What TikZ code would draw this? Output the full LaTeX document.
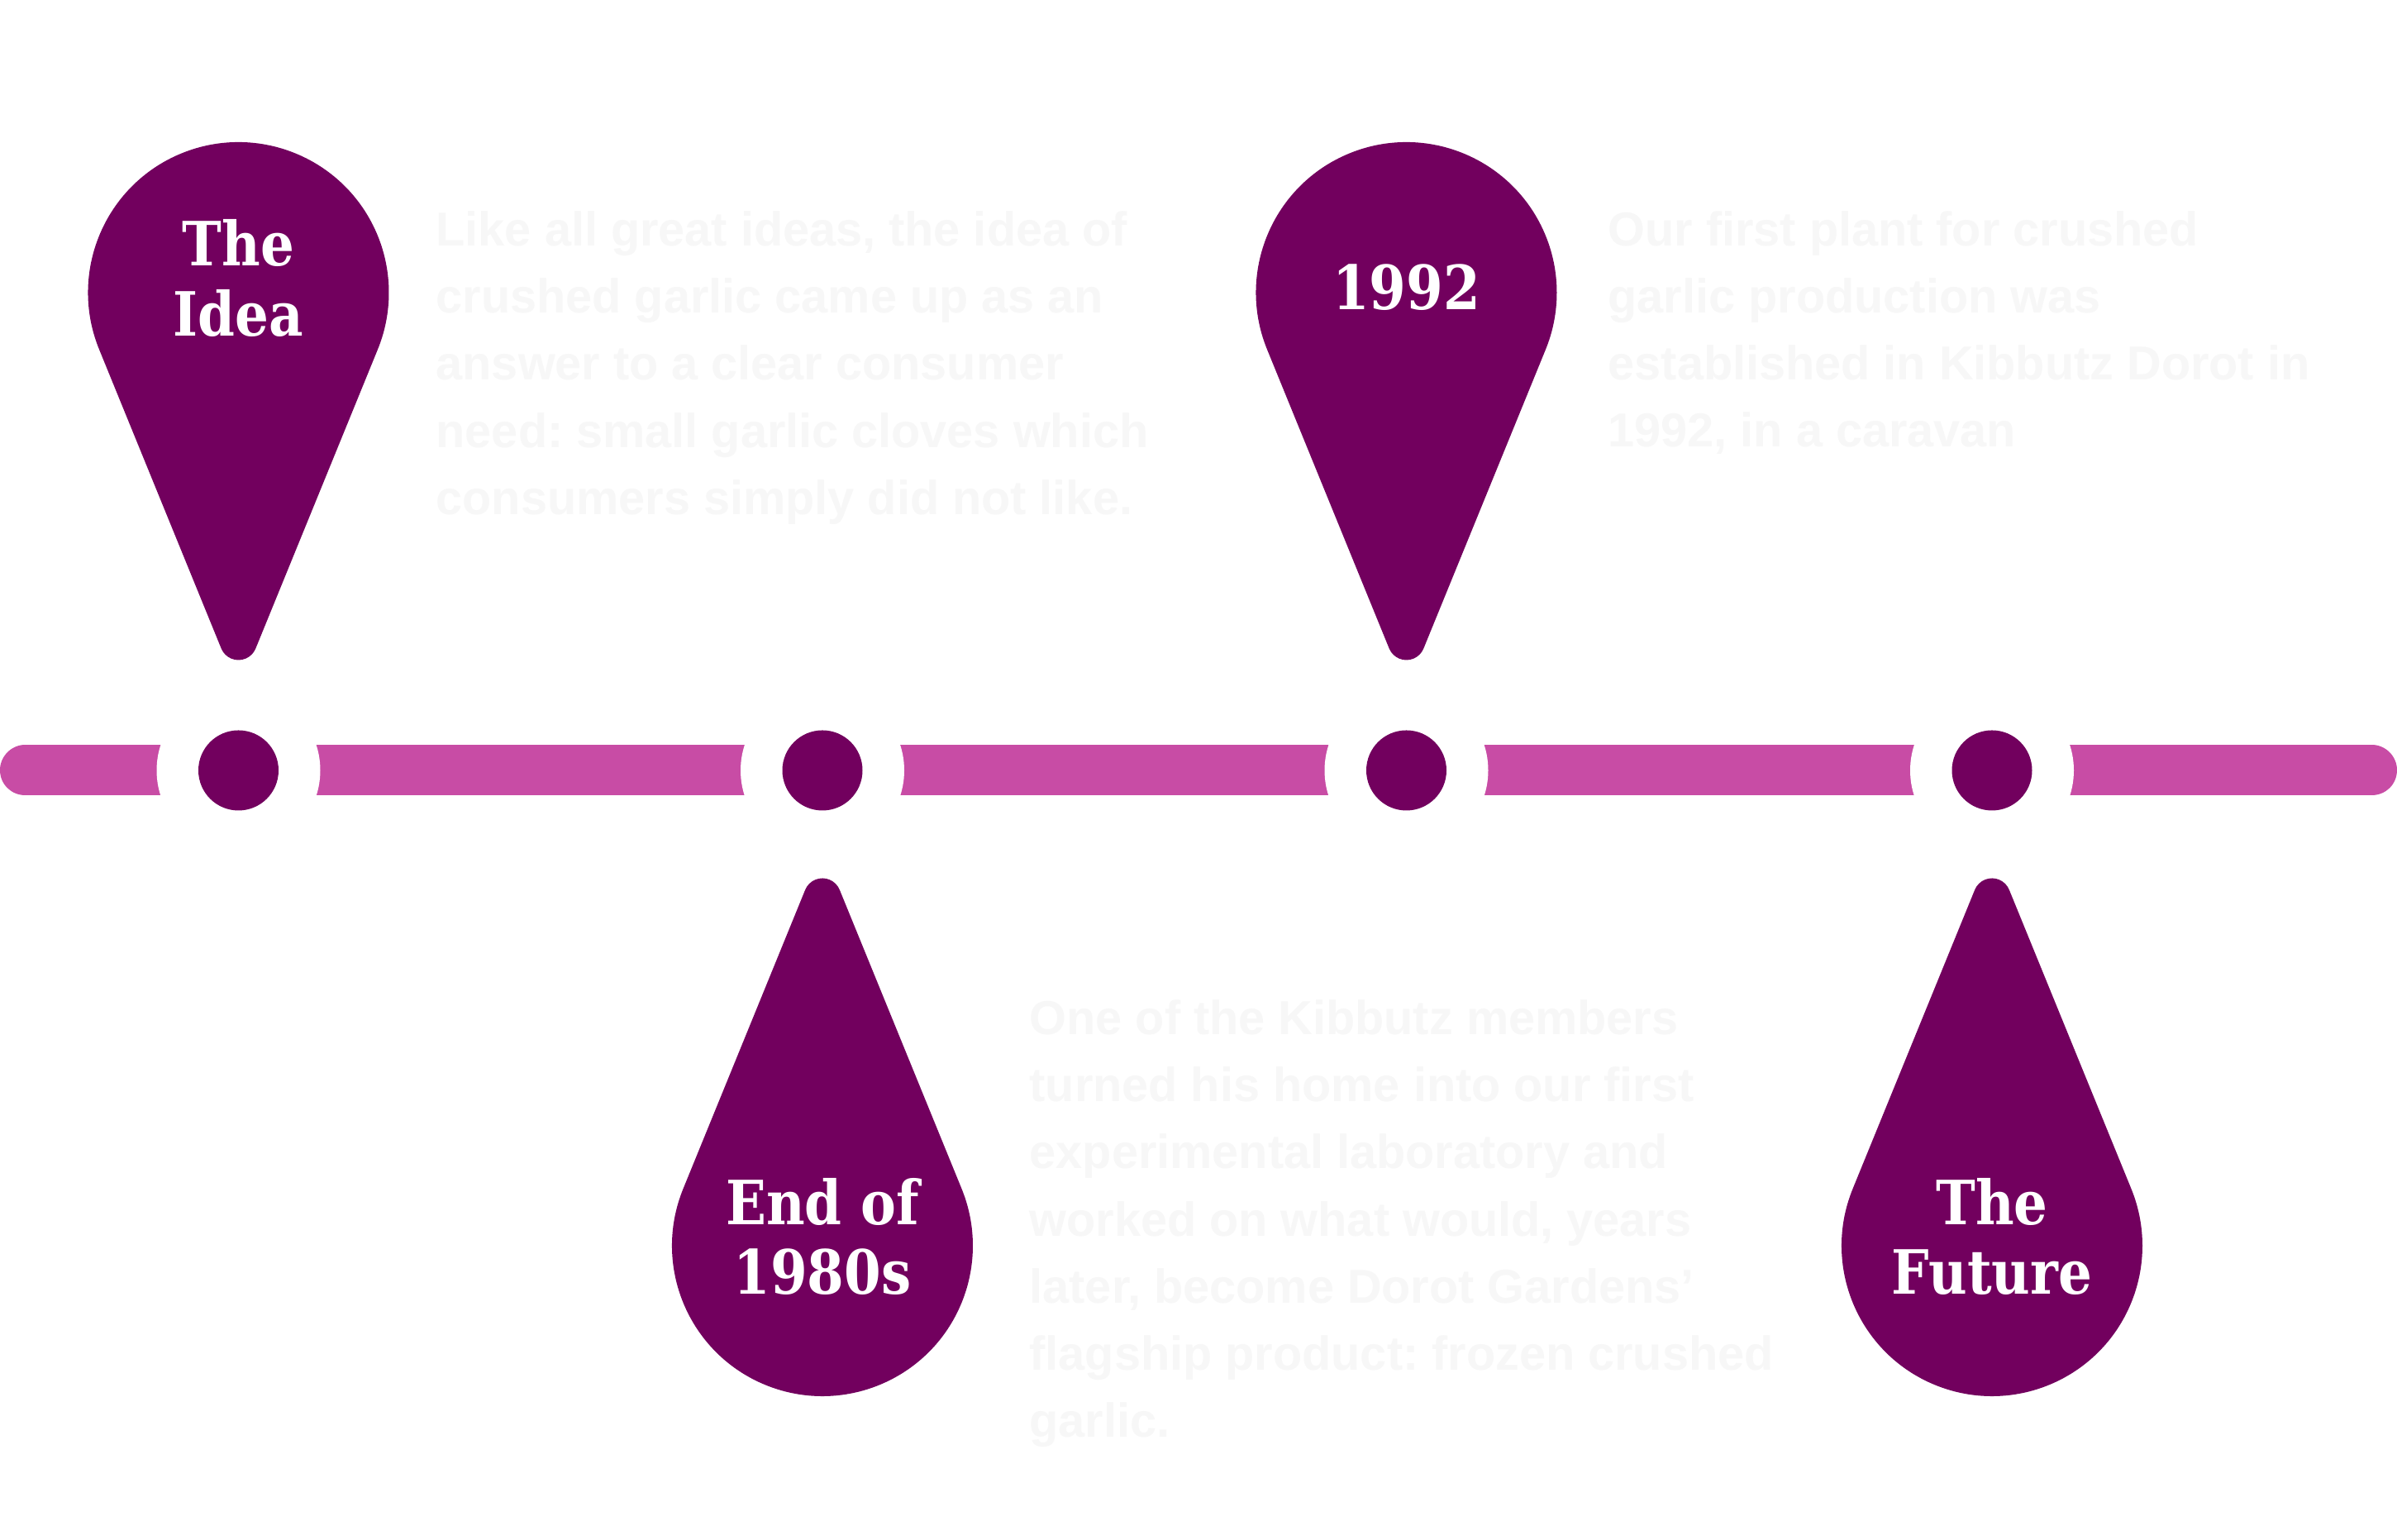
\documentclass[tikz,border=0pt]{standalone}
\usepackage{fontspec}
\setmainfont{Liberation Sans}
\newfontfamily\labelfont[FakeStretch=0.87]{DejaVu Serif}
\definecolor{pinpurple}{HTML}{72005E}
\definecolor{barpink}{HTML}{C84CA5}
\definecolor{faint}{HTML}{F7F7F7}
\frenchspacing
\tikzset{
  barline/.style={barpink, line width=0.61cm, line cap=round},
  gapdisk/.style={circle, fill=white, minimum size=1.98cm, inner sep=0pt},
  dotdisk/.style={circle, fill=pinpurple, minimum size=0.97cm, inner sep=0pt},
  droppin/.pic={
    \fill[pinpurple] (202.2:1.82) arc[start angle=202.2, end angle=-22.2, radius=1.82]
      -- ([shift={(0,-4.22)}]-22.2:0.225)
      arc[start angle=-22.2, end angle=-157.8, radius=0.225] -- cycle;
  },
  pinlabel/.style={text=white, align=center, inner sep=0pt,
    font=\labelfont\bfseries\fontsize{21}{24}\selectfont},
  bodytext/.style={text=faint, align=left, anchor=north west, inner sep=0pt,
    font=\bfseries\fontsize{16.4}{23.1}\selectfont}
}
\begin{document}
\begin{tikzpicture}
\useasboundingbox (0,0) rectangle (29,18.63);
\fill[white] (0,0) rectangle (29,18.63);

% timeline bar
\coordinate (barL) at (0.305,9.31);
\coordinate (barR) at (28.695,9.31);
\draw[barline] (barL) -- (barR);

% gaps and dots
\foreach \i/\x in {1/2.885, 2/9.95, 3/17.015, 4/24.10} {
  \node[gapdisk] (g\i) at (\x,9.31) {};
  \node[dotdisk] (d\i) at (\x,9.31) {};
}

% pin centres
\coordinate (c1) at (2.885,15.09);
\coordinate (c2) at (9.95,3.56);
\coordinate (c3) at (17.015,15.09);
\coordinate (c4) at (24.10,3.56);

\pic at (c1) {droppin};
\pic[yscale=-1] at (c2) {droppin};
\pic at (c3) {droppin};
\pic[yscale=-1] at (c4) {droppin};

% pin labels
\node[pinlabel] (l1) at ([yshift=0.175cm]c1) {The\\Idea};
\node[pinlabel] (l2) at ([yshift=0.11cm]c2) {End of\\1980s};
\node[pinlabel] (l3) at ([yshift=0.06cm]c3) {1992};
\node[pinlabel] (l4) at ([yshift=0.11cm]c4) {The\\Future};

% body texts
\node[bodytext] (t1) at (5.27,16.08) {Like all great ideas, the idea of\\crushed garlic came up as an\\answer to a clear consumer\\need: small garlic cloves which\\consumers simply did not like.};
\node[bodytext] (t2) at (19.45,16.08) {Our first plant for crushed\\garlic production was\\established in Kibbutz Dorot in\\1992, in a caravan};
\node[bodytext] (t3) at (12.45,6.54) {One of the Kibbutz members\\turned his home into our first\\experimental laboratory and\\worked on what would, years\\later, become Dorot Gardens'\\flagship product: frozen crushed\\garlic.};
\end{tikzpicture}
\end{document}
